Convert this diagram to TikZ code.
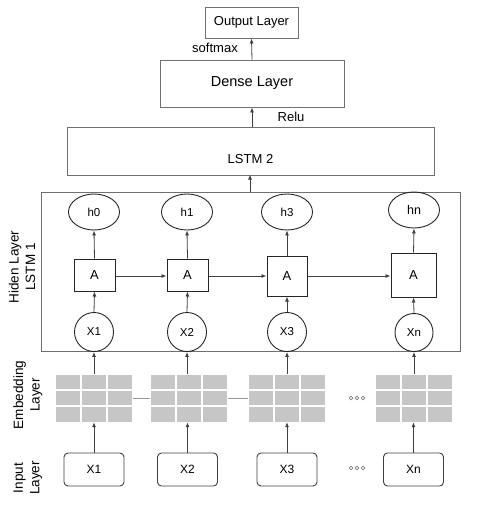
\documentclass[tikz,border=0pt]{standalone}
\usepackage{fontspec}
\setmainfont{Liberation Sans}
\usetikzlibrary{arrows.meta,shapes.geometric}
\definecolor{boxline}{HTML}{707070}
\definecolor{conn}{HTML}{404040}
\definecolor{cellfill}{HTML}{C6C6C6}
\begin{document}
\begin{tikzpicture}[x=1pt,y=-1pt,
  box/.style={draw=boxline, line width=0.9pt, rectangle, inner sep=0pt},
  abox/.style={draw=black!85, line width=1pt, rectangle, inner sep=0pt, font=\fontsize{13}{15}\selectfont},
  hell/.style={draw=black!85, line width=0.9pt, ellipse, minimum width=51pt, minimum height=36pt, inner sep=0pt, font=\fontsize{11.5}{13}\selectfont},
  xcirc/.style={draw=black!85, line width=0.9pt, circle, minimum size=39pt, inner sep=0pt, font=\fontsize{11.5}{13}\selectfont},
  inbox/.style={draw=black!75, line width=0.9pt, rectangle, rounded corners=4pt, minimum width=60pt, minimum height=33pt, inner sep=0pt, font=\fontsize{12}{14}\selectfont},
  gridnode/.style={rectangle, minimum width=78pt, minimum height=48pt, inner sep=0pt},
  arr/.style={draw=conn, line width=0.8pt, -{Latex[length=5pt,width=4pt]}},
  link/.style={draw=gray!80, line width=0.9pt},
  sidelab/.style={rotate=90, align=center, font=\fontsize{13.5}{16.5}\selectfont},
  lab/.style={font=\fontsize{13}{15}\selectfont},
  dotc/.style={draw=gray, line width=0.6pt}
]
\useasboundingbox (0,0) rectangle (480,505);

% top layers
\node[box, minimum width=93pt, minimum height=31pt, font=\fontsize{13}{15}\selectfont] (out) at (251.5,22.5) {Output Layer};
\node[box, minimum width=184pt, minimum height=47pt, font=\fontsize{14.5}{17}\selectfont] (dense) at (252,83.5) {Dense Layer};
\node[box, minimum width=367pt, minimum height=48pt, label={[yshift=-8pt, font=\fontsize{13}{15}\selectfont]center:LSTM 2}] (lstm2) at (250.5,151) {};
\node[box, minimum width=419pt, minimum height=159pt] (hid) at (250.5,271.5) {};

\node[lab] (softmax) at (215,48) {softmax};
\node[lab] (relu) at (291,117) {Relu};

% hidden outputs
\node[hell] (h0) at (94,212) {h0};
\node[hell] (h1) at (187,212) {h1};
\node[hell] (h3) at (287,212) {h3};
\node[hell, font=\fontsize{12.5}{14}\selectfont] (hn) at (414,210) {hn};

% LSTM cells
\node[abox, minimum width=41pt, minimum height=32pt] (a1) at (94.5,275) {A};
\node[abox, minimum width=41pt, minimum height=32pt] (a2) at (187.5,275) {A};
\node[abox, minimum width=40pt, minimum height=40pt] (a3) at (287,276) {A};
\node[abox, minimum width=45pt, minimum height=44pt] (an) at (413.5,275) {A};

% inputs in hidden layer
\node[xcirc] (x1) at (94,332) {X1};
\node[xcirc] (x2) at (187,332) {X2};
\node[xcirc] (x3) at (287,332) {X3};
\node[xcirc, minimum size=38pt] (xn) at (414,332.5) {Xn};

% embedding grids
\foreach \n/\cx in {g1/94, g2/189, g3/287, gn/414} {
  \node[gridnode] (\n) at (\cx,398) {};
  \foreach \i in {-1,0,1} {
    \foreach \j in {-1,0,1} {
      \fill[cellfill] (\cx+26*\i-11.8,398+16.4*\j-7.1) rectangle (\cx+26*\i+11.8,398+16.4*\j+7.1);
    }
  }
}

% input boxes
\node[inbox] (i1) at (94,469.5) {X1};
\node[inbox] (i2) at (187.5,469.5) {X2};
\node[inbox] (i3) at (287,469.5) {X3};
\node[inbox] (in) at (413.5,469.5) {Xn};

% dots
\foreach \yy in {398,468} {
  \foreach \xx in {351,357,363} {
    \draw[dotc] (\xx,\yy) circle (1.9pt);
  }
}

% side labels
\node[sidelab] (hidlab) at (22,267) {Hiden Layer\\LSTM 1};
\node[sidelab] (emblab) at (28,395) {Embedding\\Layer};
\node[sidelab] (inlab) at (28,478) {Input\\Layer};

% connectors
\draw[arr] (dense.north) -- (out.south);
\draw[arr] (lstm2.north -| dense.north) -- (dense.south);
\draw[arr] (hid.north -| lstm2.north) ++(-0.5,0) -- ++(0,-17);
\foreach \a/\b in {a1/a2, a2/a3, a3/an} { \draw[arr] (\a.east |- 0,276) -- (\b.west |- 0,276); }
\foreach \x/\a/\h in {x1/a1/h0, x2/a2/h1, x3/a3/h3, xn/an/hn} {
  \draw[arr] (\x.north) -- (\a.south);
  \draw[arr] (\a.north) -- (\h.south);
}
\foreach \g/\x in {g1/x1, g2/x2, g3/x3, gn/xn} { \draw[arr] (\g.north -| \x.south) -- (\x.south); }
\foreach \i/\g in {i1/g1, i2/g2, i3/g3, in/gn} { \draw[arr] (\i.north) -- (\g.south -| \i.north); }
\draw[link] (g1.east) -- (g2.west);
\draw[link] (g2.east) -- (g3.west);
\end{tikzpicture}
\end{document}
